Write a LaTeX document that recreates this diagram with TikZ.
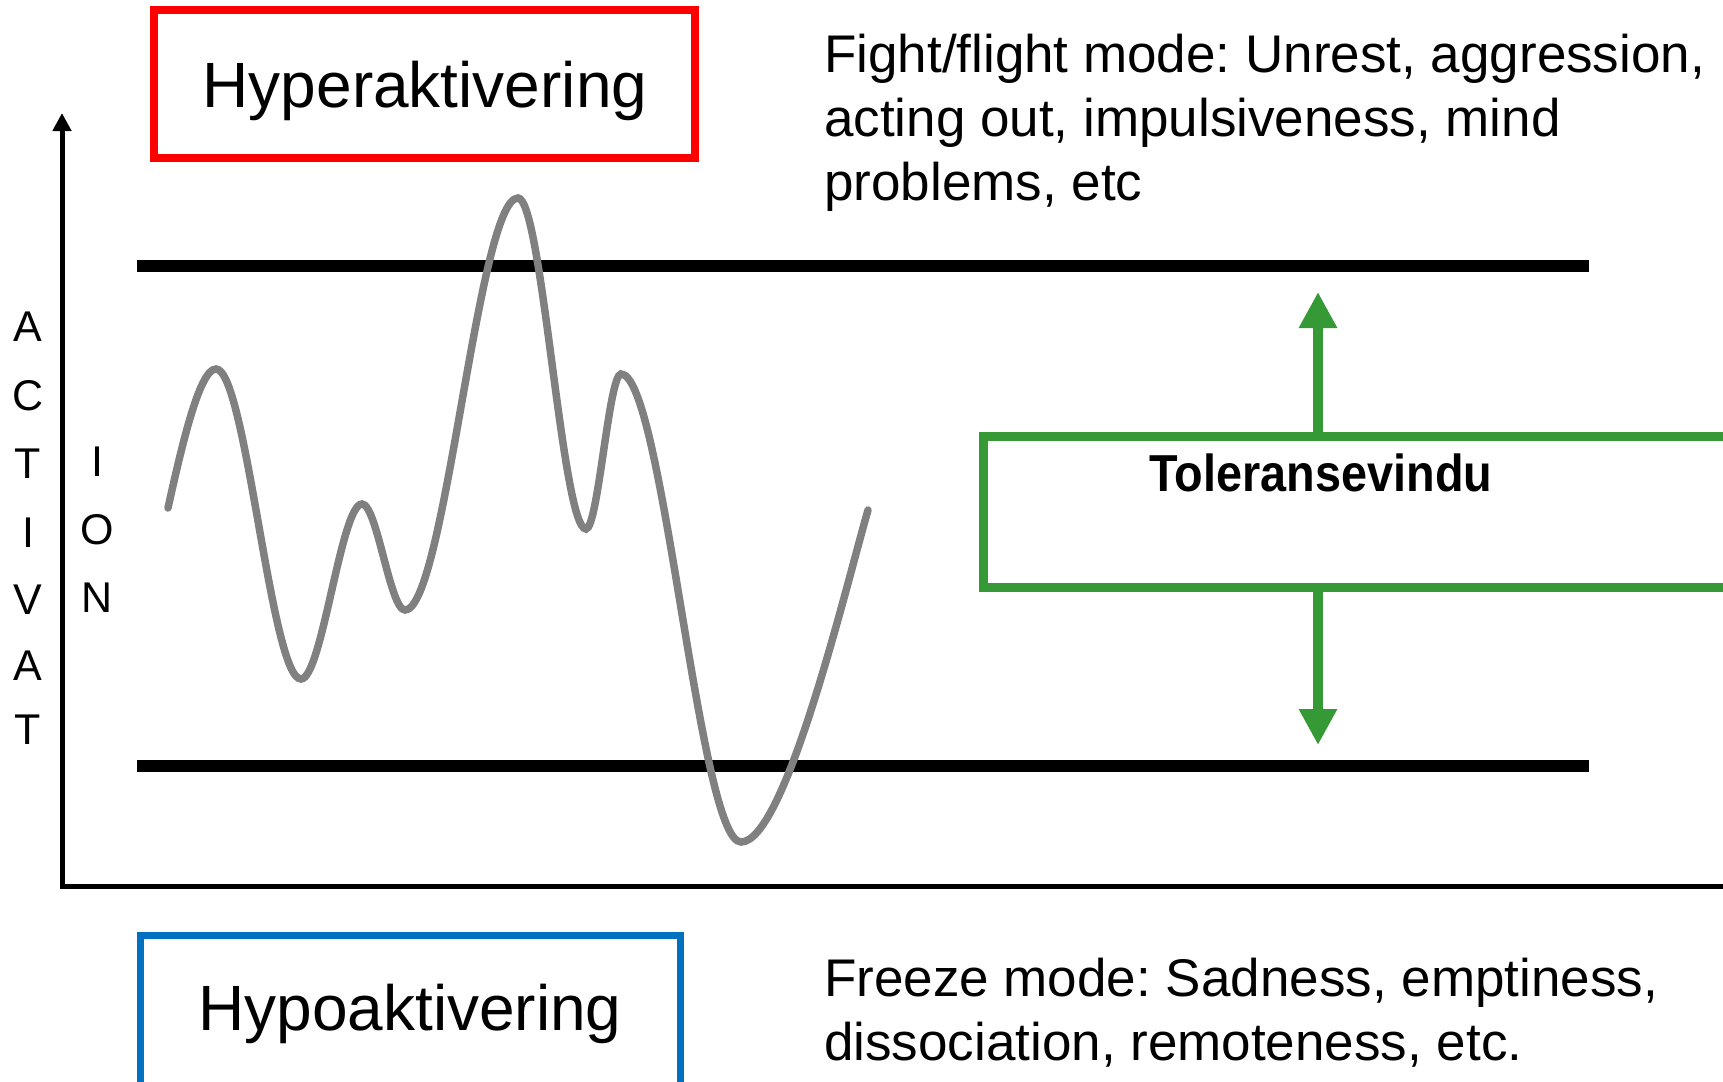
\documentclass[tikz,border=0pt]{standalone}
\usepackage{fontspec}
\usepackage{graphicx}
\setmainfont{Liberation Sans}
\usetikzlibrary{arrows.meta}
\frenchspacing

\definecolor{hyperred}{HTML}{FF0000}
\definecolor{hypoblue}{HTML}{0070C0}
\definecolor{tolgreen}{HTML}{359A35}
\definecolor{wavegray}{HTML}{808080}

\tikzset{
  bigtext/.style={font=\fontsize{64}{77}\selectfont, anchor=base, inner sep=0pt},
  modetext/.style={font=\fontsize{53}{64}\selectfont, anchor=base west, inner sep=0pt},
  axisletter/.style={font=\fontsize{43}{50}\selectfont, inner sep=0pt},
  toltext/.style={font=\bfseries\fontsize{52}{62}\selectfont, anchor=base, inner sep=0pt},
  hyperbox/.style={draw=hyperred, line width=8pt, minimum width=541pt, minimum height=148pt},
  hypobox/.style={draw=hypoblue, line width=7.5pt, minimum width=540pt, minimum height=185pt},
  tolbox/.style={draw=tolgreen, line width=9.5pt, minimum width=817pt, minimum height=151pt},
  tolarrow/.style={draw=tolgreen, line width=9.5pt, -{Triangle[width=36pt,length=36pt]}},
  bandline/.style={line width=11.5pt},
  axisline/.style={line width=5pt},
  wave/.style={draw=wavegray, line width=7.5pt, line cap=round}
}

\begin{document}
\begin{tikzpicture}[x=1pt,y=-1pt]
\useasboundingbox (0,0) rectangle (1723,1081);

%upper and lower border of the window
\draw[bandline] (137,266) -- (1589,266);
\draw[bandline] (137,766) -- (1589,766);

%axes
\coordinate (ytop) at (62,113);
\coordinate (origin) at (62,886);
\coordinate (xend) at (1740,886);
\draw[axisline, {Triangle[width=18pt,length=18pt]}-] (ytop) -- (origin) -- (xend);

%axis label, one letter at a time
\node[axisletter] (a1) at (28,327) {A};
\node[axisletter] (c1) at (28,396) {C};
\node[axisletter] (t1) at (28,464) {T};
\node[axisletter] (i1) at (28,533) {I};
\node[axisletter] (v1) at (28,600) {V};
\node[axisletter] (a2) at (28,666) {A};
\node[axisletter] (t2) at (28,730) {T};
\node[axisletter] (i2) at (97,462) {I};
\node[axisletter] (o1) at (97,530) {O};
\node[axisletter] (n1) at (97,598) {N};

%arousal curve
\draw[wave] (168,508) .. controls (183,440) and (200,369) .. (216,369)
  .. controls (246,369) and (271,679) .. (301,679)
  .. controls (322,679) and (341,504) .. (362,504)
  .. controls (377,504) and (390,610) .. (405,610)
  .. controls (445,610) and (478,198) .. (518,198)
  .. controls (542,198) and (562,529) .. (586,529)
  .. controls (598,529) and (609,374) .. (621,374)
  .. controls (663,374) and (699,842) .. (741,842)
  .. controls (785,842) and (845,590) .. (868,510);

%hyper / hypo boxes
\node[hyperbox] (hyper) at (424.5,84) {};
\node[bigtext] (hypertxt) at (425,107) {Hyperaktivering};
\node[hypobox] (hypo) at (410.5,1028) {};
\node[bigtext] (hypotxt) at (410,1030) {Hypoaktivering};

%mode descriptions
\node[modetext] (fight1) at (824,72) {Fight/flight mode: Unrest, aggression,};
\node[modetext] (fight2) at (824,136) {acting out, impulsiveness, mind};
\node[modetext] (fight3) at (824,200) {problems, etc};
\node[modetext] (freeze1) at (824,996) {Freeze mode: Sadness, emptiness,};
\node[modetext] (freeze2) at (824,1060) {dissociation, remoteness, etc.};

%tolerance window with arrows
\node[tolbox] (tol) at (1392,512) {};
\node[toltext] (toltxt) at (1321,491) {\scalebox{0.9}[1]{Toleransevindu}};
\coordinate (uptip) at (1318,292);
\coordinate (downtip) at (1318,745);
\draw[tolarrow] (uptip |- tol.north) -- (uptip);
\draw[tolarrow] (downtip |- tol.south) -- (downtip);

\end{tikzpicture}
\end{document}
